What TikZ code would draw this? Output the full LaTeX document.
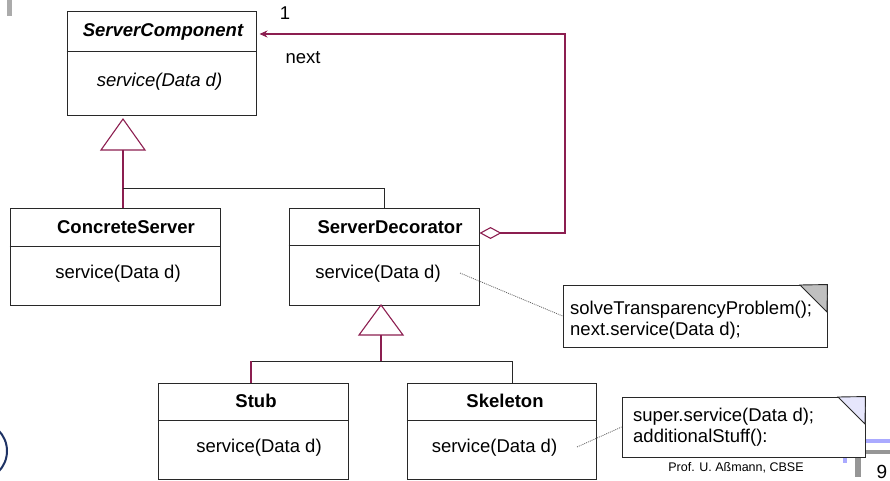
\documentclass[tikz,border=0pt]{standalone}
\usepackage{fontspec}
\setmainfont{Liberation Sans}
\usetikzlibrary{arrows.meta}
\definecolor{umlpurple}{RGB}{140,30,80}
\definecolor{foldgray}{RGB}{192,192,192}
\definecolor{foldblue}{RGB}{230,230,252}
\definecolor{barblue}{RGB}{170,170,255}
\definecolor{bargray}{RGB}{150,150,150}
\definecolor{logonavy}{RGB}{30,50,100}
\definecolor{linegray}{RGB}{40,40,40}
\newcommand{\umlfont}{\fontsize{18.5}{20.5}\selectfont}
\tikzset{
  classbox/.style 2 args={draw=linegray, line width=1pt, minimum width=#1, minimum height=#2, inner sep=0pt},
  notebox/.style 2 args={draw=linegray, line width=0.9pt, fill=white, minimum width=#1, minimum height=#2, inner sep=0pt},
  txt/.style={font=\umlfont, inner sep=0pt},
  ttl/.style={font=\umlfont\bfseries, inner sep=0pt},
  divider/.style={draw=linegray, line width=1pt},
  genline/.style={draw=umlpurple, line width=1.1pt},
  plainline/.style={draw=linegray, line width=1pt},
  noteline/.style={draw=gray!80!black, line width=0.8pt, dash pattern=on 1pt off 1pt},
}
\begin{document}
\begin{tikzpicture}[x=1pt,y=-1pt]
\useasboundingbox (0,0) rectangle (890,481);

% decorations
\fill[bargray!80] (7,0) rectangle (12,16);
\fill[barblue] (866,439) rectangle (890,442.5);
\fill[bargray] (866,450) rectangle (890,454);
\fill[barblue] (843,458) rectangle (847,463);
\fill[bargray] (855,457) rectangle (861,477);
\draw[logonavy, line width=2pt] (-22.3,451) circle[radius=29.3pt];

% class boxes
\node[classbox={189pt}{104pt}] (sc) at (161.5,64) {};
\node[classbox={210pt}{97pt}] (cs) at (115,256.5) {};
\node[classbox={190pt}{97pt}] (sd) at (384,256.5) {};
\node[classbox={190pt}{96pt}] (stub) at (253,431) {};
\node[classbox={189pt}{96pt}] (skel) at (501.5,431) {};

\draw[divider] (sc.west |- 0,52) -- (sc.east |- 0,52);
\draw[divider] (cs.west |- 0,246) -- (cs.east |- 0,246);
\draw[divider] (sd.west |- 0,245) -- (sd.east |- 0,245);
\draw[divider] (stub.west |- 0,420) -- (stub.east |- 0,420);
\draw[divider] (skel.west |- 0,420) -- (skel.east |- 0,420);

% class texts
\node[ttl, font=\umlfont\bfseries\itshape] (scT) at (163,32) {ServerComponent};
\node[txt, font=\umlfont\itshape] (scM) at (159.5,82) {service(Data d)};
\node[ttl] (csT) at (126,227) {ConcreteServer};
\node[txt] (csM) at (118,274) {service(Data d)};
\node[ttl] (sdT) at (390,227) {ServerDecorator};
\node[txt] (sdM) at (378,274) {service(Data d)};
\node[ttl] (stubT) at (256,401) {Stub};
\node[txt] (stubM) at (259,448) {service(Data d)};
\node[ttl] (skelT) at (505,401) {Skeleton};
\node[txt] (skelM) at (494.5,448) {service(Data d)};

% generalization ServerComponent
\coordinate (g1) at (123,119);
\draw[genline] (g1) -- ++(-22,31) -- ++(44,0) -- cycle;
\coordinate (g1b) at (123,150);
\coordinate (j1) at (123,188);
\draw[genline] (g1b) -- (g1b |- cs.north);
\draw[plainline] (j1) -| (sd.north);

% generalization ServerDecorator
\coordinate (g2) at (381,305);
\draw[genline] (g2) -- ++(-22,30) -- ++(44,0) -- cycle;
\coordinate (g2b) at (381,335);
\coordinate (j2) at (381,361);
\coordinate (j2l) at (251,361);
\coordinate (j2r) at (512,361);
\draw[genline] (g2b) -- (j2);
\draw[plainline] (j2l) -- (j2r);
\draw[genline] (j2l) -- (j2l |- stub.north);
\draw[plainline] (j2r) -- (j2r |- skel.north);

% aggregation next
\coordinate (turn) at (565,34);
\draw[genline, shorten >=3pt, {Diamond[open,length=22pt,width=12pt]}-{Stealth[length=8pt,width=7pt]}]
  (sd.east |- 0,233) -| (turn) -- (sc.east |- 0,34);
\node[txt] (mult) at (285,13) {1};
\node[txt] (role) at (303,58) {next};

% note 1
\node[notebox={264pt}{62pt}] (n1) at (695,316) {};
\draw[draw=linegray, line width=0.9pt, fill=foldgray] (800,285) -- (n1.north east) -- (827,312) -- cycle;
\node[txt, anchor=west, align=left] (n1t) at (570,320) {solveTransparencyProblem();\\next.service(Data d);};
\coordinate (d1) at (460,273);
\draw[noteline] (d1) -- (n1.west);

% note 2
\node[notebox={243pt}{60pt}] (n2) at (743.5,427) {};
\draw[draw=linegray, line width=0.9pt, fill=foldblue] (838,397) -- (n2.north east) -- (865,424) -- cycle;
\node[txt, anchor=west, align=left] (n2t) at (633,427) {super.service(Data d);\\additionalStuff():};
\coordinate (d2) at (577,447);
\draw[noteline] (d2) -- (n2.west);

% footer
\node[font=\fontsize{12.5}{14}\selectfont, inner sep=0pt] (prof) at (736,468) {Prof. U. Aßmann, CBSE};
\node[font=\fontsize{19}{22}\selectfont, inner sep=0pt] (pg) at (882,472) {9};
\end{tikzpicture}
\end{document}
